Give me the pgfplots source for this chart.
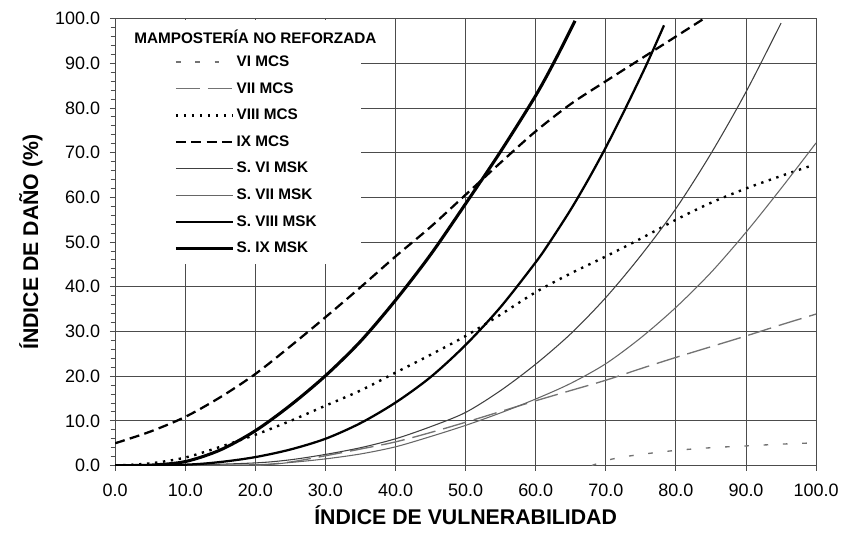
\documentclass[border=0pt]{standalone}
\usepackage{fontspec}
\setmainfont{Liberation Sans}
\usepackage{pgfplots}
\pgfplotsset{compat=1.18}

\begin{document}
\begin{tikzpicture}
\begin{axis}[
  scale only axis,
  width=526.9pt, height=336pt,
  xmin=0, xmax=100, ymin=0, ymax=100,
  xtick={0,10,...,100}, ytick={0,10,...,100},
  minor y tick num=4,
  tick pos=left, tick align=outside,
  major tick length=4pt, minor tick length=3.5pt,
  grid=major,
  major grid style={black!70, line width=0.75pt},
  axis line style={black!70, line width=0.75pt},
  every tick/.style={black!70, line width=0.75pt},
  /pgf/number format/fixed,
  /pgf/number format/fixed zerofill,
  /pgf/number format/precision=1,
  /pgf/number format/assume math mode=true,
  tick label style={font=\fontsize{13.5}{16}\selectfont},
  xticklabel style={yshift=-6pt},
  yticklabel style={xshift=-3.75pt},
  label style={font=\bfseries\fontsize{16}{19}\selectfont},
  xlabel={ÍNDICE DE VULNERABILIDAD},
  ylabel={ÍNDICE DE DAÑO (\%)},
  ylabel style={yshift=2.75pt},
  legend image code/.code={\draw[#1] (3pt,0pt) -- (46pt,0pt);},
  legend cell align=left,
  legend style={at={(0,1)}, anchor=north west, draw=none, fill=white,
    xshift=0.5pt, yshift=-0.5pt,
    font=\bfseries\fontsize{11.5}{13}\selectfont,
    inner xsep=42pt, inner ysep=2pt, row sep=0pt,
    nodes={inner xsep=1.5pt, inner ysep=0pt, minimum height=20pt}},
  every axis plot/.append style={smooth},
]
\addlegendimage{empty legend}
\addlegendentry{\makebox[0pt][l]{\hspace*{-77pt}\raisebox{-3.5pt}{MAMPOSTERÍA NO REFORZADA}}}

% VI MCS
\addplot[black!55, line width=1pt, dash pattern=on 3.5pt off 11pt] coordinates {
(68,0) (70,1.1) (72,1.8) (75,2.5) (80,3.4) (85,4.0) (90,4.4) (95,4.8) (100,5.1)};
\addlegendentry{\makebox[50pt][l]{VI MCS}}

% VII MCS
\addplot[black!55, line width=1pt, dash pattern=on 18pt off 6pt] coordinates {
(20,0) (25,0.8) (30,2.2) (35,3.7) (40,5.3) (45,7.4) (50,9.7) (55,12.1) (60,14.5)
(65,16.8) (70,19.1) (75,21.7) (80,24.2) (85,26.6) (90,29.0) (95,31.5) (100,33.9)};
\addlegendentry{\makebox[50pt][l]{VII MCS}}

% VIII MCS
\addplot[black, line width=1.8pt, dash pattern=on 1.8pt off 4.2pt] coordinates {
(0,0) (5,0.5) (10,1.8) (15,4.2) (20,6.9) (25,10) (30,13.4) (35,16.8) (40,20.8)
(45,24.8) (50,29) (55,33.8) (60,38.8) (65,43) (70,46.8) (75,50.8) (80,55)
(85,58.8) (90,62) (95,64.8) (99.5,67.2)};
\addlegendentry{\makebox[50pt][l]{VIII MCS}}

% IX MCS
\addplot[black, line width=1.7pt, dash pattern=on 7.5pt off 4pt] coordinates {
(0,5) (5,7.6) (10,10.9) (15,15.3) (20,20.5) (25,26.7) (30,33.2) (35,39.9)
(40,46.8) (45,53.4) (50,60.6) (55,67.8) (60,74.8) (65,80.9) (70,86)
(75,91) (80,96) (84,100)};
\addlegendentry{\makebox[50pt][l]{IX MCS}}

% S. VI MSK
\addplot[black!75, line width=0.8pt] coordinates {
(0,0) (10,0.1) (20,0.6) (25,1.3) (30,2.5) (35,4.0) (40,6.0) (45,8.7) (50,11.9)
(55,16.8) (60,22.7) (65,29.5) (70,37.6) (75,47) (80,57.5) (85,69.8) (90,83.6) (95,99)};
\addlegendentry{\makebox[50pt][l]{S. VI MSK}}

% S. VII MSK
\addplot[black!60, line width=0.8pt] coordinates {
(0,0) (20,0.2) (25,0.7) (30,1.5) (35,2.6) (40,4.2) (45,6.5) (50,9.0) (55,11.8)
(60,14.9) (65,18.4) (70,22.8) (75,28.6) (80,35.4) (85,43.2) (90,52.2) (95,62) (100,72.2)};
\addlegendentry{\makebox[50pt][l]{S. VII MSK}}

% S. VIII MSK
\addplot[black, line width=1.7pt] coordinates {
(0,0) (10,0.2) (15,0.8) (20,1.9) (25,3.6) (30,6.0) (35,9.5) (40,14.1) (45,19.8)
(50,27) (55,35.5) (60,45.5) (62,50) (65,57.3) (67.5,64) (70,71.2) (72.7,79.6)
(75.8,89.7) (78.3,98.5)};
\addlegendentry{\makebox[50pt][l]{S. VIII MSK}}

% S. IX MSK
\addplot[black, line width=2.3pt] coordinates {
(0,0) (5,0.1) (10,0.9) (15,3.5) (20,7.8) (25,13.5) (30,20.1) (35,27.8) (40,37)
(45,47.2) (50,58.6) (55,70.3) (60,82.8) (63,91.4) (65.6,99.5)};
\addlegendentry{\makebox[50pt][l]{S. IX MSK}}
\end{axis}
\path (current axis.south west) ++(-86.6pt,-58pt);
\path (current axis.north east) ++(18.75pt,14pt);
\end{tikzpicture}
\end{document}
